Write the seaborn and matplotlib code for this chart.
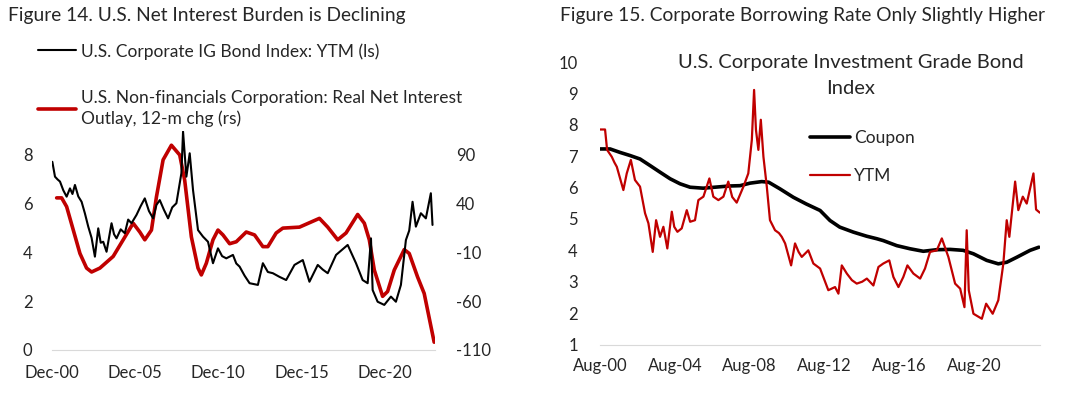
import numpy as np
import pandas as pd
import seaborn as sns
import matplotlib.pyplot as plt

# ---- Figure 14: IG bond YTM (ls) and real net interest outlay 12-m chg (rs), decimal years
ytm14_year = [2000.94, 2001.1, 2001.25, 2001.4, 2001.6, 2001.8, 2002.0, 2002.15, 2002.3, 2002.5,
              2002.7, 2002.9, 2003.1, 2003.3, 2003.5, 2003.7, 2003.85, 2004.0, 2004.2, 2004.5,
              2004.65, 2004.8, 2005.05, 2005.3, 2005.5, 2005.7, 2006.0, 2006.25, 2006.5, 2006.75,
              2007.0, 2007.2, 2007.4, 2007.65, 2007.9, 2008.15, 2008.4, 2008.7, 2008.8, 2009.0,
              2009.2, 2009.4, 2009.7, 2010.0, 2010.3, 2010.6, 2010.9, 2011.15, 2011.4, 2011.8,
              2012.0, 2012.2, 2012.5, 2012.8, 2013.3, 2013.6, 2013.9, 2014.2, 2014.6, 2015.0,
              2015.5, 2016.0, 2016.4, 2016.9, 2017.2, 2017.5, 2018.0, 2018.7, 2019.2, 2019.6,
              2019.9, 2020.1, 2020.2, 2020.5, 2020.9, 2021.3, 2021.6, 2021.9, 2022.2, 2022.4,
              2022.6, 2022.8, 2023.1, 2023.4, 2023.7, 2023.8]
ytm14_val = [7.72, 7.11, 7.00, 6.91, 6.55, 6.29, 6.63, 6.40, 6.77, 6.30,
             6.08, 5.60, 5.06, 4.60, 3.83, 4.99, 4.40, 4.44, 4.03, 5.20,
             4.75, 4.58, 4.95, 4.79, 5.35, 5.20, 5.54, 5.90, 6.22, 5.70,
             5.40, 5.95, 6.15, 5.75, 5.40, 5.85, 6.02, 7.25, 8.96, 7.11,
             8.07, 6.56, 4.92, 4.65, 4.44, 3.56, 4.17, 3.85, 3.76, 3.90,
             3.55, 3.42, 3.05, 2.74, 2.67, 3.56, 3.20, 3.15, 3.00, 2.87,
             3.49, 3.69, 2.80, 3.49, 3.30, 3.15, 3.90, 4.31, 3.56, 2.87,
             2.74, 4.58, 2.46, 1.98, 1.85, 2.19, 1.98, 2.67, 4.51, 4.90,
             6.08, 5.06, 5.61, 5.40, 6.43, 5.13]

nio_year = [2001.2, 2001.5, 2001.8, 2002.2, 2002.6, 2003.0, 2003.3, 2003.8, 2004.6, 2005.2,
            2005.8, 2006.2, 2006.5, 2006.9, 2007.2, 2007.6, 2008.1, 2008.6, 2008.9, 2009.3,
            2009.7, 2009.9, 2010.2, 2010.6, 2010.9, 2011.2, 2011.6, 2012.0, 2012.6, 2013.1,
            2013.6, 2013.9, 2014.4, 2014.8, 2015.8, 2017.0, 2017.5, 2018.1, 2018.6, 2019.3,
            2019.7, 2020.0, 2020.3, 2020.8, 2021.1, 2021.5, 2022.1, 2022.4, 2022.9, 2023.3,
            2023.9]
nio_val = [46, 46, 37, 13, -11, -26, -30, -26, -14, 3,
           20, 11, 3, 13, 47, 85, 100, 90, 64, 6,
           -26, -33, -21, 3, 13, 8, -1, 1, 11, 8,
           -4, -4, 10, 15, 16, 25, 16, 3, 10, 29,
           20, 3, -28, -55, -50, -28, -7, -11, -35, -52,
           -102]

x14_ticks = [2000.92, 2005.92, 2010.92, 2015.92, 2020.92]
x14_labels = ['Dec-00', 'Dec-05', 'Dec-10', 'Dec-15', 'Dec-20']
y14_left_ticks = [0, 2, 4, 6, 8]
y14_right_ticks = [-110, -60, -10, 40, 90]

# ---- Figure 15: IG bond index coupon and YTM
ytm15_year = [2000.58, 2000.85, 2000.96, 2001.21, 2001.35, 2001.48, 2001.65, 2001.83, 2002.01, 2002.23,
              2002.45, 2002.72, 2002.99, 2003.17, 2003.40, 2003.58, 2003.79, 2003.97, 2004.18, 2004.42,
              2004.55, 2004.72, 2004.95, 2005.22, 2005.40, 2005.66, 2005.84, 2006.11, 2006.43, 2006.64,
              2006.91, 2007.18, 2007.44, 2007.65, 2007.89, 2008.25, 2008.51, 2008.70, 2008.82, 2008.92,
              2009.05, 2009.18, 2009.32, 2009.50, 2009.67, 2009.94, 2010.15, 2010.30, 2010.48, 2010.80,
              2011.01, 2011.20, 2011.37, 2011.72, 2011.99, 2012.35, 2012.79, 2013.15, 2013.33, 2013.51,
              2013.78, 2014.05, 2014.31, 2014.60, 2014.85, 2015.20, 2015.47, 2015.73, 2016.05, 2016.27,
              2016.54, 2016.80, 2017.02, 2017.34, 2017.70, 2017.96, 2018.23, 2018.59, 2018.86, 2019.21,
              2019.57, 2019.84, 2020.07, 2020.19, 2020.30, 2020.55, 2021.00, 2021.23, 2021.58, 2021.88,
              2022.15, 2022.33, 2022.47, 2022.78, 2022.95, 2023.19, 2023.40, 2023.76, 2023.90, 2024.10]
ytm15_val = [7.85, 7.85, 7.20, 6.98, 6.80, 6.66, 6.30, 5.92, 6.45, 6.88,
             6.24, 6.03, 5.18, 4.86, 3.95, 4.96, 4.43, 4.75, 4.06, 5.23,
             4.75, 4.59, 4.70, 5.28, 4.91, 4.96, 5.60, 5.71, 6.29, 5.71,
             5.60, 5.71, 6.19, 5.70, 5.52, 6.03, 6.45, 7.52, 9.11, 7.84,
             7.20, 8.16, 6.98, 6.03, 4.96, 4.64, 4.55, 4.43, 4.22, 3.52,
             4.22, 3.95, 3.79, 4.00, 3.58, 3.42, 2.73, 2.83, 2.62, 3.52,
             3.26, 3.05, 2.94, 3.00, 3.10, 2.88, 3.47, 3.58, 3.68, 3.15,
             2.83, 3.15, 3.52, 3.26, 3.10, 3.42, 3.95, 4.00, 4.38, 3.79,
             2.94, 2.78, 2.19, 4.64, 2.73, 1.98, 1.82, 2.30, 1.98, 2.41,
             3.58, 4.96, 4.43, 6.19, 5.28, 5.71, 5.49, 6.45, 5.30, 5.20]

coupon_year = [2000.58, 2001.12, 2001.65, 2002.19, 2002.72, 2003.26, 2003.79, 2004.33, 2004.86, 2005.40,
               2006.10, 2007.50, 2008.07, 2008.60, 2009.23, 2009.60, 2010.20, 2010.92, 2011.60, 2012.35,
               2012.88, 2013.40, 2014.13, 2014.84, 2015.38, 2015.73, 2016.45, 2017.16, 2017.87, 2018.59,
               2019.30, 2020.00, 2020.55, 2021.26, 2021.88, 2022.33, 2022.87, 2023.58, 2024.05]
coupon_val = [7.23, 7.23, 7.12, 7.02, 6.91, 6.70, 6.49, 6.28, 6.12, 6.01,
              5.98, 6.05, 6.06, 6.14, 6.19, 6.17, 5.96, 5.69, 5.48, 5.27,
              4.95, 4.74, 4.58, 4.45, 4.37, 4.31, 4.15, 4.05, 3.97, 4.02,
              4.03, 4.00, 3.89, 3.68, 3.57, 3.62, 3.78, 4.00, 4.10]

x15_ticks = [2000.58, 2004.58, 2008.58, 2012.58, 2016.58, 2020.58]
x15_labels = ['Aug-00', 'Aug-04', 'Aug-08', 'Aug-12', 'Aug-16', 'Aug-20']
y15_ticks = list(range(1, 11))

RED = '#C00000'
AXIS_GREY = '#D9D9D9'

sns.set_style('white')
plt.rcParams['font.family'] = ['Lato', 'DejaVu Sans']
plt.rcParams['font.size'] = 11.5
plt.rcParams['axes.unicode_minus'] = False

W, H = 1072, 393
fig = plt.figure(figsize=(W / 100, H / 100), dpi=100)

# ---------------- Figure 14 ----------------
ax1 = fig.add_axes([52 / W, 43 / H, 383 / W, 219.4 / H])
ax2 = ax1.twinx()
sns.lineplot(x=nio_year, y=nio_val, ax=ax2, color=RED, linewidth=2.6)
sns.lineplot(x=ytm14_year, y=ytm14_val, ax=ax1, color='black', linewidth=1.5)
ax1.set_zorder(ax2.get_zorder() + 1)
ax1.patch.set_visible(False)

ax1.set_xlim(2000.92, 2023.95)
ax1.set_ylim(0, 9)
ax2.set_ylim(-110, 115)
ax1.set_xticks(x14_ticks, x14_labels)
ax1.set_yticks(y14_left_ticks)
ax2.set_yticks(y14_right_ticks)
ax1.tick_params(axis='x', length=0, pad=11, labelsize=12)
ax1.tick_params(axis='y', length=0, pad=14, labelsize=12)
ax2.tick_params(axis='y', length=0, pad=15, labelsize=12)
for s in ax1.spines.values():
    s.set_visible(False)
for s in ax2.spines.values():
    s.set_visible(False)
ax1.spines['bottom'].set_visible(True)
ax1.spines['bottom'].set_color(AXIS_GREY)
ax1.set_xlabel('')
ax1.set_ylabel('')
ax2.set_ylabel('')

fig.text(8 / W, 1 - 15 / H, 'Figure 14. U.S. Net Interest Burden is Declining',
         fontsize=13.8, va='center', ha='left')

h14 = [ax1.lines[0], ax2.lines[0]]
fig.legend(h14, ['U.S. Corporate IG Bond Index: YTM (ls)',
                 'U.S. Non-financials Corporation: Real Net Interest\nOutlay, 12-m chg (rs)'],
           loc='upper left', bbox_to_anchor=(38 / W, 1 - 43 / H), frameon=False,
           fontsize=12.5, handlelength=2.2, handletextpad=0.3, labelspacing=1.75,
           borderpad=0, borderaxespad=0)
for t in fig.legends[0].get_texts():
    t.set_linespacing(1.35)

# ---------------- Figure 15 ----------------
ax3 = fig.add_axes([600 / W, 48.5 / H, 440 / W, 282.5 / H])
sns.lineplot(x=coupon_year, y=coupon_val, ax=ax3, color='black', linewidth=2.6, label='Coupon')
sns.lineplot(x=ytm15_year, y=ytm15_val, ax=ax3, color=RED, linewidth=1.6, label='YTM')
ax3.set_xlim(2000.58, 2024.11)
ax3.set_ylim(1, 10)
ax3.set_xticks(x15_ticks, x15_labels)
ax3.set_yticks(y15_ticks)
ax3.tick_params(axis='x', direction='in', length=4, color=AXIS_GREY, pad=10, labelsize=12)
ax3.tick_params(axis='y', length=0, pad=16, labelsize=12)
for s in ax3.spines.values():
    s.set_visible(False)
ax3.spines['bottom'].set_visible(True)
ax3.spines['bottom'].set_color(AXIS_GREY)
ax3.set_xlabel('')
ax3.set_ylabel('')

ax3.text(0.57, 1.028, 'U.S. Corporate Investment Grade Bond\nIndex', transform=ax3.transAxes,
         ha='center', va='top', fontsize=14.5, linespacing=1.65)
ax3.legend(loc='upper left', bbox_to_anchor=(0.477, 0.76), frameon=False, fontsize=12.5,
           handlelength=2.3, handletextpad=0.25, labelspacing=1.3, borderpad=0, borderaxespad=0)

fig.text(560 / W, 1 - 15 / H, 'Figure 15. Corporate Borrowing Rate Only Slightly Higher',
         fontsize=13.8, va='center', ha='left')

fig.savefig('out.png', dpi=100)
